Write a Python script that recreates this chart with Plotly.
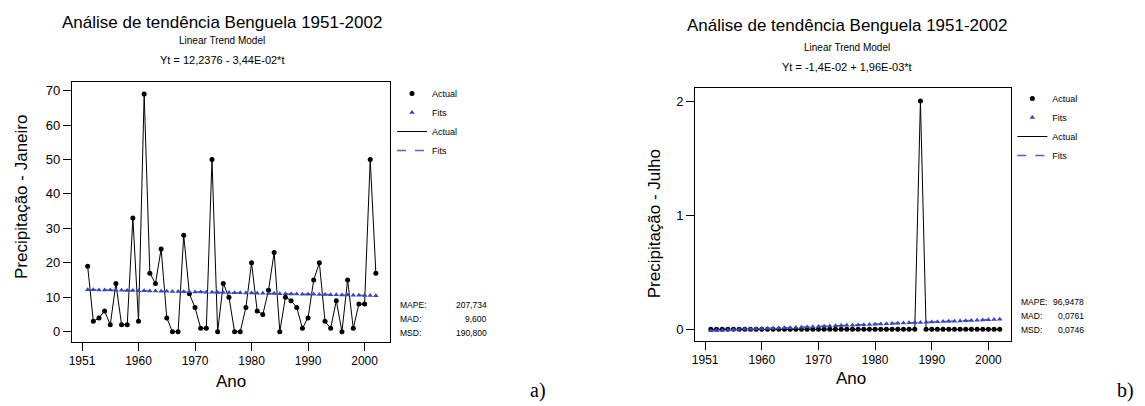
import plotly.graph_objects as go

# the page body has an 8px default margin: figure fills the rest of the window
OFF = 8
W, H = 1145 - OFF, 406 - OFF

# ---------------- data ----------------
years = list(range(1951, 2003))

jan_actual = [19, 3, 4, 6, 2, 14, 2, 2, 33, 3,
              69, 17, 14, 24, 4, 0, 0, 28, 11, 7,
              1, 1, 50, 0, 14, 10, 0, 0, 7, 20,
              6, 5, 12, 23, 0, 10, 9, 7, 1, 4,
              15, 20, 3, 1, 9, 0, 15, 1, 8, 8,
              50, 17]
jan_fits = [12.20, 12.17, 12.13, 12.10, 12.07, 12.03, 12.00, 11.96, 11.93, 11.89,
            11.86, 11.82, 11.79, 11.76, 11.72, 11.69, 11.65, 11.62, 11.58, 11.55,
            11.52, 11.48, 11.45, 11.41, 11.38, 11.34, 11.31, 11.27, 11.24, 11.21,
            11.17, 11.14, 11.10, 11.07, 11.03, 11.00, 10.96, 10.93, 10.90, 10.86,
            10.83, 10.79, 10.76, 10.72, 10.69, 10.66, 10.62, 10.59, 10.55, 10.52,
            10.48, 10.45]

jul_actual = [0, 0, 0, 0, 0, 0, 0, 0, 0, 0,
              0, 0, 0, 0, 0, 0, 0, 0, 0, 0,
              0, 0, 0, 0, 0, 0, 0, 0, 0, 0,
              0, 0, 0, 0, 0, 0, 0, 2, 0, 0,
              0, 0, 0, 0, 0, 0, 0, 0, 0, 0,
              0, 0]
jul_fits = [-0.012, -0.010, -0.008, -0.006, -0.004, -0.002, 0.000, 0.002, 0.004, 0.006,
            0.008, 0.010, 0.011, 0.013, 0.015, 0.017, 0.019, 0.021, 0.023, 0.025,
            0.027, 0.029, 0.031, 0.033, 0.035, 0.037, 0.039, 0.041, 0.043, 0.045,
            0.047, 0.049, 0.051, 0.053, 0.055, 0.057, 0.059, 0.060, 0.062, 0.064,
            0.066, 0.068, 0.070, 0.072, 0.074, 0.076, 0.078, 0.080, 0.082, 0.084,
            0.086, 0.088]

x_tickvals = [1950, 1960, 1970, 1980, 1990, 2000]
x_ticktext = ["1951", "1960", "1970", "1980", "1990", "2000"]
jan_yticks = [0, 10, 20, 30, 40, 50, 60, 70]
jul_yticks = [0, 1, 2]

title_main = "Análise de tendência Benguela 1951-2002"
subtitle = "Linear Trend Model"
jan_eq = "Yt = 12,2376 - 3,44E-02*t"
jul_eq = "Yt = -1,4E-02 + 1,96E-03*t"

stat_names = ["MAPE:", "MAD:", "MSD:"]
jan_stats = ["207,734", "9,600", "190,800"]
jul_stats = ["96,9478", "0,0761", "0,0746"]

# ---------------- styling ----------------
SANS = "Liberation Sans, Arial, sans-serif"
SERIF = "Liberation Serif, DejaVu Serif, serif"
BLUE = "#3b44b8"
DASHBLUE = "#4a63d8"


def px(x):
    return (x - OFF) / W


def py(y):
    return 1 - (y - OFF) / H


fig = go.Figure()


def add_series(xa, ya, actual, fits, leg):
    fig.add_trace(go.Scatter(x=years, y=actual, mode="lines", name="Actual",
                             line=dict(color="black", width=1), xaxis=xa, yaxis=ya,
                             legend=leg, legendrank=3))
    fig.add_trace(go.Scatter(x=years, y=actual, mode="markers", name="Actual",
                             marker=dict(color="black", size=5, symbol="circle"),
                             xaxis=xa, yaxis=ya, legend=leg, legendrank=1))
    fig.add_trace(go.Scatter(x=years, y=fits, mode="lines", name="Fits",
                             line=dict(color=DASHBLUE, width=1.5, dash="dash"),
                             xaxis=xa, yaxis=ya, legend=leg, legendrank=4))
    fig.add_trace(go.Scatter(x=years, y=fits, mode="markers", name="Fits",
                             marker=dict(color=BLUE, size=5, symbol="triangle-up"),
                             xaxis=xa, yaxis=ya, legend=leg, legendrank=2))


add_series("x", "y", jan_actual, jan_fits, "legend")
add_series("x2", "y2", jul_actual, jul_fits, "legend2")

axis_common = dict(showline=True, mirror=True, linecolor="black", linewidth=1,
                   ticks="outside", ticklen=8, tickcolor="black", tickwidth=1,
                   showgrid=False, zeroline=False)
xfont = dict(tickfont=dict(family=SANS, size=12, color="black"))
yfont = dict(tickfont=dict(family=SANS, size=13, color="black"))

legend_common = dict(xanchor="left", yanchor="top", bgcolor="rgba(0,0,0,0)",
                     font=dict(family=SANS, size=9, color="black"),
                     tracegroupgap=0, itemwidth=30)

fig.update_layout(
    width=W, height=H,
    margin=dict(l=0, r=0, t=0, b=0),
    paper_bgcolor="white", plot_bgcolor="white",
    showlegend=True,
    xaxis=dict(domain=[px(69), px(388)], range=[1948.2, 2004.5], anchor="y",
               tickvals=x_tickvals, ticktext=x_ticktext, **axis_common, **xfont),
    yaxis=dict(domain=[py(342), py(82)], range=[-3.0, 72.5], anchor="x",
               tickvals=jan_yticks, **axis_common, **yfont),
    xaxis2=dict(domain=[px(694), px(1011)], range=[1948.24, 2004.05], anchor="y2",
                tickvals=x_tickvals, ticktext=x_ticktext, **axis_common, **xfont),
    yaxis2=dict(domain=[py(341), py(88)], range=[-0.102, 2.114], anchor="x2",
                tickvals=jul_yticks, **axis_common, **yfont),
    legend=dict(x=px(390), y=py(79), **legend_common),
    legend2=dict(x=px(1012), y=py(84), **legend_common),
)

ann = []


def text(x, y, s, size, family=SANS, xanchor="center", angle=0):
    ann.append(dict(x=px(x), y=py(y), xref="paper", yref="paper", text=s,
                    showarrow=False, xanchor=xanchor, yanchor="middle",
                    textangle=angle, font=dict(family=family, size=size, color="black")))


# titles
text(220, 22, title_main, 17)
text(220, 41, subtitle, 10)
text(220, 60, jan_eq, 11)
text(846, 25, title_main, 17)
text(846, 47, subtitle, 10)
text(846, 67, jul_eq, 11)

# axis titles
text(18, 197, "Precipitação - Janeiro", 17, angle=-90)
text(229, 381, "Ano", 17)
text(653, 224, "Precipitação - Julho", 17, angle=-90)
text(850, 378, "Ano", 17)

# stats
for i, (nm, v) in enumerate(zip(stat_names, jan_stats)):
    yy = 305 + i * 14
    text(396, yy, nm, 8.5, xanchor="left")
    text(487, yy, v, 8.5, xanchor="right")
for i, (nm, v) in enumerate(zip(stat_names, jul_stats)):
    yy = 302 + i * 14
    text(1019, yy, nm, 8.5, xanchor="left")
    text(1086, yy, v, 8.5, xanchor="right")

# panel labels
text(536, 390, "a)", 20, family=SERIF)
text(1125, 390, "b)", 20, family=SERIF)

fig.update_layout(annotations=ann)

fig.write_html("out.html")
